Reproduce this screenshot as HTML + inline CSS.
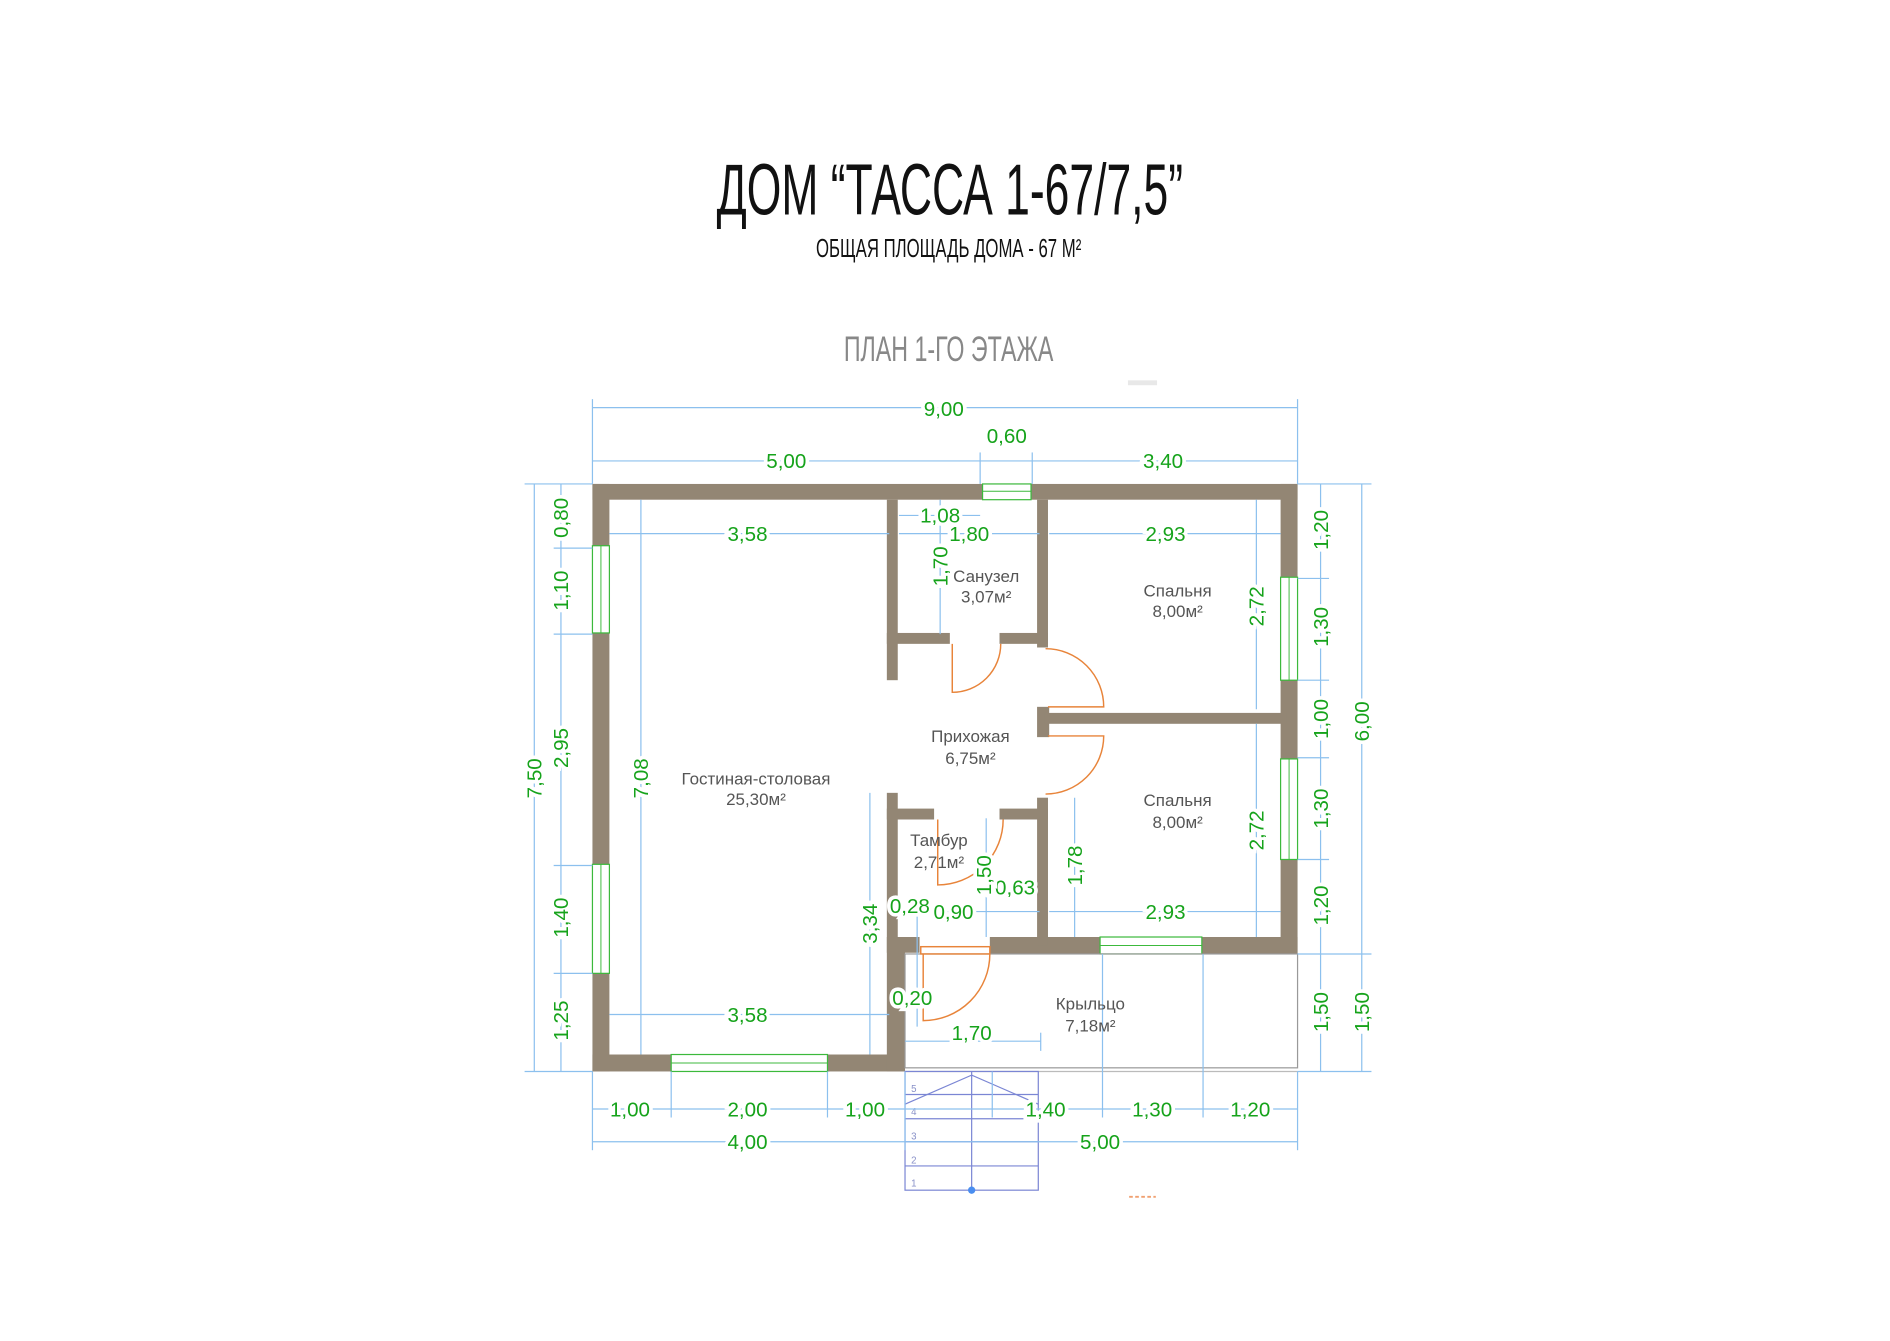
<!DOCTYPE html>
<html><head><meta charset="utf-8"><style>html,body{margin:0;padding:0;background:#fff}svg{display:block}</style></head>
<body>
<svg width="1890" height="1341" viewBox="0 0 1560 1107" preserveAspectRatio="none" xmlns="http://www.w3.org/2000/svg">
<rect width="1560" height="1107" fill="#fff"/>
<text x="784" y="177" text-anchor="middle" font-family="Liberation Sans Narrow, Liberation Sans, sans-serif" font-size="60" textLength="385" lengthAdjust="spacingAndGlyphs" fill="#111">ДОМ “ТАССА 1-67/7,5”</text>
<text x="783" y="212" text-anchor="middle" font-family="Liberation Sans Narrow, Liberation Sans, sans-serif" font-size="21" textLength="219" lengthAdjust="spacingAndGlyphs" fill="#111">ОБЩАЯ ПЛОЩАДЬ ДОМА - 67 М²</text>
<text x="783" y="298" text-anchor="middle" font-family="Liberation Sans Narrow, Liberation Sans, sans-serif" font-size="29" textLength="173" lengthAdjust="spacingAndGlyphs" fill="#888">ПЛАН 1-ГО ЭТАЖА</text>
<rect x="931" y="314" width="24" height="4" fill="#e8e8e8"/>
<line x1="932" y1="988" x2="954" y2="988" stroke="#f0a070" stroke-width="1.5" stroke-dasharray="3,2"/>
<g transform="translate(-3,-2.5)">
<g fill="#938674">
<rect x="492" y="402" width="322" height="13"/>
<rect x="854" y="402" width="220" height="13"/>
<rect x="492" y="402" width="14" height="51"/>
<rect x="492" y="525" width="14" height="191"/>
<rect x="492" y="806" width="14" height="81"/>
<rect x="492" y="873" width="65" height="14"/>
<rect x="686" y="873" width="64" height="14"/>
<rect x="1060" y="402" width="14" height="77"/>
<rect x="1060" y="564" width="14" height="65"/>
<rect x="1060" y="712" width="14" height="78"/>
<rect x="820" y="776" width="91" height="14"/>
<rect x="995" y="776" width="79" height="14"/>
<rect x="735" y="415" width="9" height="149"/>
<rect x="735" y="525" width="52" height="9"/>
<rect x="828" y="525" width="40" height="9"/>
<rect x="859" y="415" width="9" height="122"/>
<rect x="859" y="586" width="10" height="25"/>
<rect x="865" y="591" width="200" height="9"/>
<rect x="735" y="657" width="9" height="119"/>
<rect x="735" y="670" width="39" height="9"/>
<rect x="828" y="670" width="40" height="9"/>
<rect x="859" y="661" width="9" height="122"/>
<rect x="735" y="776" width="27" height="13"/>
<rect x="735" y="776" width="15" height="111"/>
</g>
<g fill="#fff" stroke="#3cb93c" stroke-width="1">
<rect x="814" y="402" width="40" height="13"/>
<rect x="492" y="453" width="14" height="72"/>
<rect x="492" y="716" width="14" height="90"/>
<rect x="557" y="873" width="129" height="14"/>
<rect x="1060" y="479" width="14" height="85"/>
<rect x="1060" y="629" width="14" height="83"/>
<rect x="911" y="776" width="84" height="14"/>
</g>
<g stroke="#3cb93c" stroke-width="0.8">
<line x1="814" y1="408" x2="854" y2="408"/><line x1="499" y1="453" x2="499" y2="525"/><line x1="499" y1="716" x2="499" y2="806"/>
<line x1="557" y1="880" x2="686" y2="880"/><line x1="1067" y1="479" x2="1067" y2="564"/><line x1="1067" y1="629" x2="1067" y2="712"/><line x1="911" y1="783" x2="995" y2="783"/>
</g>
<rect x="750" y="790" width="324" height="94" fill="none" stroke="#999" stroke-width="1"/>
<line x1="750" y1="887" x2="1074" y2="887" stroke="#bbb" stroke-width="1"/>
<g fill="none" stroke="#e8843a" stroke-width="1.2">
<path d="M789 534 V574 A40 40 0 0 0 829 534"/>
<path d="M866 538 A48 48 0 0 1 914 586 H868"/>
<path d="M868 610 H914 A48 48 0 0 1 866 658"/>
<path d="M777 679 V733 A54 54 0 0 0 831 679"/>
<rect x="763" y="784" width="57" height="6"/>
<path d="M765 790 V845 A55 55 0 0 0 820 790"/>
</g>
<g fill="none" stroke="#7b86d4" stroke-width="1">
<rect x="750" y="887" width="110" height="98"/>
<line x1="750" y1="926" x2="860" y2="926"/><line x1="750" y1="945" x2="860" y2="945"/><line x1="750" y1="965" x2="860" y2="965"/><line x1="750" y1="906" x2="860" y2="906"/>
<line x1="805" y1="887" x2="805" y2="985"/>
<polyline points="750,914 805,890 860,914"/>
</g>
<circle cx="805" cy="985" r="3" fill="#4a8ef0"/>
<g font-family="Liberation Sans, sans-serif" font-size="8" fill="#8890c8">
<text x="755" y="904">5</text><text x="755" y="923">4</text><text x="755" y="943">3</text><text x="755" y="963">2</text><text x="755" y="982">1</text></g>
<g stroke="#8cc0ee" stroke-width="1" fill="none">
<line x1="492" y1="339" x2="1074" y2="339"/><line x1="492" y1="332" x2="492" y2="402"/><line x1="1074" y1="332" x2="1074" y2="402"/>
<line x1="492" y1="383" x2="1074" y2="383"/><line x1="812" y1="376" x2="812" y2="402"/><line x1="855" y1="376" x2="855" y2="402"/>
<line x1="444" y1="402" x2="444" y2="887"/><line x1="436" y1="402" x2="492" y2="402"/><line x1="436" y1="887" x2="492" y2="887"/>
<line x1="466" y1="402" x2="466" y2="887"/>
<line x1="460" y1="455" x2="492" y2="455"/><line x1="460" y1="526" x2="492" y2="526"/><line x1="460" y1="717" x2="492" y2="717"/><line x1="460" y1="806" x2="492" y2="806"/>
<line x1="1093" y1="402" x2="1093" y2="887"/><line x1="1127" y1="402" x2="1127" y2="887"/>
<line x1="1074" y1="402" x2="1135" y2="402"/><line x1="1074" y1="887" x2="1135" y2="887"/><line x1="1074" y1="790" x2="1135" y2="790"/>
<line x1="1074" y1="480" x2="1100" y2="480"/><line x1="1074" y1="564" x2="1100" y2="564"/><line x1="1074" y1="628" x2="1100" y2="628"/><line x1="1074" y1="712" x2="1100" y2="712"/>
<line x1="492" y1="918" x2="1074" y2="918"/><line x1="492" y1="945" x2="1074" y2="945"/>
<line x1="492" y1="887" x2="492" y2="952"/><line x1="557" y1="887" x2="557" y2="925"/><line x1="686" y1="887" x2="686" y2="925"/><line x1="750" y1="887" x2="750" y2="952"/><line x1="822" y1="887" x2="822" y2="925"/><line x1="913" y1="790" x2="913" y2="925"/><line x1="996" y1="790" x2="996" y2="925"/><line x1="1074" y1="887" x2="1074" y2="952"/>
<line x1="506" y1="443" x2="737" y2="443"/><line x1="745" y1="443" x2="861" y2="443"/><line x1="745" y1="428" x2="812" y2="428"/><line x1="869" y1="443" x2="1060" y2="443"/>
<line x1="532" y1="415" x2="532" y2="873"/><line x1="779" y1="415" x2="779" y2="526"/>
<line x1="1040" y1="415" x2="1040" y2="588"/><line x1="1040" y1="600" x2="1040" y2="776"/>
<line x1="890" y1="661" x2="890" y2="776"/><line x1="721" y1="657" x2="721" y2="873"/><line x1="817" y1="678" x2="817" y2="776"/>
<line x1="745" y1="755" x2="861" y2="755"/><line x1="869" y1="755" x2="1060" y2="755"/>
<line x1="506" y1="840" x2="737" y2="840"/><line x1="750" y1="862" x2="862" y2="862"/><line x1="862" y1="855" x2="862" y2="870"/>
<line x1="760" y1="750" x2="760" y2="850"/>
</g>
<g font-family="Liberation Sans, sans-serif" font-size="17" fill="#16a31b" text-anchor="middle">
<g paint-order="stroke" stroke="#fff" stroke-width="6">
<text x="782" y="346">9,00</text><text x="834" y="368">0,60</text><text x="652" y="389">5,00</text><text x="963" y="389">3,40</text>
<text x="620" y="449">3,58</text><text x="779" y="434">1,08</text><text x="803" y="449">1,80</text><text x="965" y="449">2,93</text>
<text x="790" y="761">0,90</text><text x="965" y="761">2,93</text><text x="754" y="756">0,28</text><text x="838" y="741">-0,63</text>
<text x="756" y="832">0,20</text><text x="805" y="861">1,70</text><text x="620" y="846">3,58</text>
<text x="523" y="924">1,00</text><text x="620" y="924">2,00</text><text x="717" y="924">1,00</text><text x="866" y="924">1,40</text><text x="954" y="924">1,30</text><text x="1035" y="924">1,20</text>
<text x="620" y="951">4,00</text><text x="911" y="951">5,00</text>
<text transform="translate(472,430) rotate(-90)">0,80</text>
<text transform="translate(472,490) rotate(-90)">1,10</text>
<text transform="translate(472,620) rotate(-90)">2,95</text>
<text transform="translate(472,760) rotate(-90)">1,40</text>
<text transform="translate(472,845) rotate(-90)">1,25</text>
<text transform="translate(450,645) rotate(-90)">7,50</text>
<text transform="translate(538,645) rotate(-90)">7,08</text>
<text transform="translate(785,470) rotate(-90)">1,70</text>
<text transform="translate(1046,503) rotate(-90)">2,72</text>
<text transform="translate(1046,688) rotate(-90)">2,72</text>
<text transform="translate(896,717) rotate(-90)">1,78</text>
<text transform="translate(727,765) rotate(-90)">3,34</text>
<text transform="translate(821,725) rotate(-90)">1,50</text>
<text transform="translate(1099,440) rotate(-90)">1,20</text>
<text transform="translate(1099,520) rotate(-90)">1,30</text>
<text transform="translate(1099,596) rotate(-90)">1,00</text>
<text transform="translate(1099,670) rotate(-90)">1,30</text>
<text transform="translate(1099,750) rotate(-90)">1,20</text>
<text transform="translate(1099,838) rotate(-90)">1,50</text>
<text transform="translate(1133,598) rotate(-90)">6,00</text>
<text transform="translate(1133,838) rotate(-90)">1,50</text>
</g></g>
<g font-family="Liberation Sans, sans-serif" font-size="14" fill="#555" text-anchor="middle">
<text x="817" y="483">Санузел</text><text x="817" y="500">3,07м²</text>
<text x="975" y="495">Спальня</text><text x="975" y="512">8,00м²</text>
<text x="804" y="615">Прихожая</text><text x="804" y="633">6,75м²</text>
<text x="627" y="650">Гостиная-столовая</text><text x="627" y="667">25,30м²</text>
<text x="975" y="668">Спальня</text><text x="975" y="686">8,00м²</text>
<text x="778" y="701">Тамбур</text><text x="778" y="719">2,71м²</text>
<text x="903" y="836">Крыльцо</text><text x="903" y="854">7,18м²</text>
</g>
</g>
</svg>
</body></html>
